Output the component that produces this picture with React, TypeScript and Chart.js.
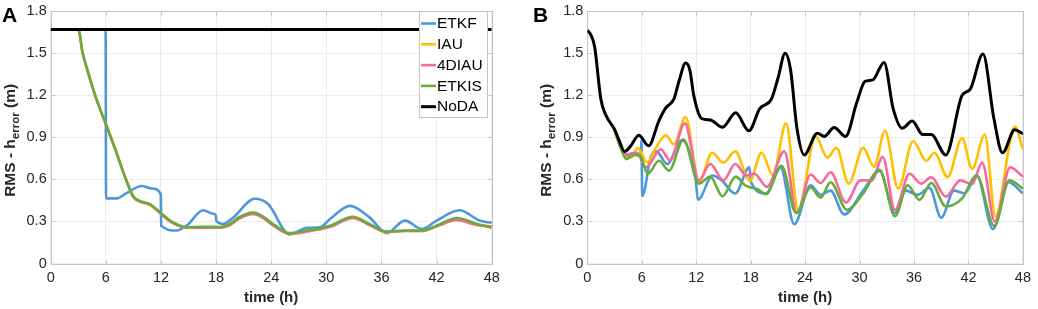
import React, { useEffect, useRef } from "react";
import { Chart, registerables } from "chart.js";

Chart.register(...registerables);

const FONT = '"Liberation Sans", Arial, Helvetica, sans-serif';
const TEXT_COLOR = "#262626";
const AXIS_COLOR = "#c4c4c4";
const GRID_COLOR = "#ececec";

const seriesLabels = ["ETKF", "IAU", "4DIAU", "ETKIS", "NoDA"];
const seriesColors = ["#4d97dc", "#ffc000", "#f7699b", "#66ad3d", "#000000"];
const seriesWidths = [2.6, 2.6, 2.6, 2.6, 3];

const xTickValues = [0, 6, 12, 18, 24, 30, 36, 42, 48];
const yTickValues = [0, 0.3, 0.6, 0.9, 1.2, 1.5, 1.8];
const xAxisTitle = "time (h)";
const yAxisTitleMain = "RMS - h";
const yAxisTitleSub = "error";
const yAxisTitleEnd = " (m)";

// ---------------- Panel A ----------------
const etkfATimes = [0, 5.98, 6.02, 7.2, 8.2, 9.9, 11.0, 11.98, 12.02, 13.7, 14.8, 16.6, 17.6, 17.98, 18.02, 18.8, 19.9, 22.2, 23.7, 24.05, 26.0, 27.9, 29.3, 30.4, 32.57, 34.7, 36.56, 38.55, 40.4, 42.0, 44.5, 46.7, 48];
const etkfAValues = [1.67, 1.67, 0.465, 0.465, 0.5, 0.553, 0.535, 0.495, 0.27, 0.235, 0.27, 0.38, 0.357, 0.345, 0.306, 0.282, 0.33, 0.462, 0.423, 0.39, 0.207, 0.254, 0.258, 0.317, 0.411, 0.329, 0.217, 0.306, 0.247, 0.306, 0.38, 0.306, 0.29];

const smootherATimes = [0, 3.0, 3.48, 4.0, 4.82, 5.5, 6.0, 7.0, 8.19, 9.0, 10.0, 10.8, 12.0, 13.0, 14.8, 16.5, 18.4, 19.5, 20.5, 22.05, 23.0, 24.2, 26.0, 27.9, 30.4, 32.9, 34.7, 36.56, 38.55, 40.4, 42.0, 44.2, 46.4, 48];
const iauAValues = [1.67, 1.67, 1.5, 1.38, 1.203, 1.08, 0.996, 0.82, 0.6, 0.473, 0.435, 0.418, 0.355, 0.3, 0.255, 0.255, 0.255, 0.275, 0.32, 0.353, 0.33, 0.272, 0.212, 0.228, 0.262, 0.325, 0.275, 0.225, 0.232, 0.232, 0.265, 0.31, 0.275, 0.265];
const fdiauAValues = [1.67, 1.67, 1.5, 1.38, 1.203, 1.08, 0.996, 0.82, 0.6, 0.475, 0.437, 0.42, 0.355, 0.3, 0.255, 0.255, 0.255, 0.275, 0.32, 0.353, 0.33, 0.272, 0.212, 0.228, 0.262, 0.325, 0.275, 0.225, 0.232, 0.232, 0.265, 0.31, 0.275, 0.265];
const etkisAValues = [1.67, 1.67, 1.5, 1.38, 1.203, 1.08, 0.996, 0.82, 0.6, 0.478, 0.44, 0.423, 0.36, 0.306, 0.259, 0.262, 0.26, 0.282, 0.33, 0.364, 0.34, 0.282, 0.217, 0.235, 0.27, 0.334, 0.282, 0.228, 0.235, 0.235, 0.27, 0.325, 0.282, 0.254];

const nodaATimes = [0, 48];
const nodaAValues = [1.67, 1.67];

// ---------------- Panel B ----------------
const etkfBTimes = [3.0, 3.6, 4.3, 5.2, 5.9, 5.97, 6.05, 7.0, 7.6, 8.8, 10.4, 11.9, 12.2, 13.8, 14.8, 16.3, 17.85, 18.05, 19.7, 21.3, 22.8, 24.6, 25.7, 26.8, 28.3, 30.4, 32.2, 33.9, 35.1, 36.4, 37.7, 39.0, 40.4, 41.6, 42.9, 44.7, 46.4, 48];
const etkfBValues = [0.955, 0.84, 0.77, 0.79, 0.78, 0.88, 0.48, 0.76, 0.8, 0.71, 0.88, 0.62, 0.455, 0.628, 0.593, 0.5, 0.686, 0.58, 0.5, 0.686, 0.28, 0.558, 0.49, 0.52, 0.35, 0.52, 0.66, 0.36, 0.52, 0.49, 0.54, 0.326, 0.52, 0.5, 0.63, 0.245, 0.58, 0.5];

const iauBTimes = [3.0, 3.6, 4.3, 4.9, 5.55, 6.64, 7.5, 8.65, 9.55, 10.83, 12.3, 13.75, 15.0, 16.3, 17.9, 19.2, 20.45, 21.9, 23.25, 25.15, 26.45, 27.45, 28.8, 30.4, 31.6, 32.8, 34.25, 35.9, 37.35, 38.25, 39.7, 41.3, 42.4, 43.8, 44.97, 47.1, 48];
const iauBValues = [0.955, 0.84, 0.755, 0.76, 0.825, 0.72, 0.82, 0.915, 0.85, 1.045, 0.58, 0.79, 0.72, 0.8, 0.59, 0.79, 0.63, 1.0, 0.38, 0.907, 0.755, 0.825, 0.57, 0.825, 0.69, 0.947, 0.535, 0.872, 0.733, 0.79, 0.616, 0.895, 0.675, 0.92, 0.337, 0.977, 0.815];

const fdiauBTimes = [3.0, 3.6, 4.3, 5.45, 6.45, 8.1, 9.1, 10.75, 12.3, 13.55, 15.0, 16.3, 17.55, 18.4, 19.8, 21.7, 23.1, 24.6, 25.7, 26.8, 28.5, 30.1, 31.35, 32.55, 33.9, 35.5, 36.8, 37.9, 39.5, 41.1, 42.4, 43.5, 44.9, 46.6, 48];
const fdiauBValues = [0.955, 0.84, 0.78, 0.79, 0.686, 0.815, 0.737, 1.0, 0.593, 0.71, 0.593, 0.71, 0.628, 0.64, 0.547, 0.8, 0.36, 0.635, 0.574, 0.651, 0.435, 0.593, 0.593, 0.76, 0.384, 0.64, 0.57, 0.616, 0.477, 0.593, 0.565, 0.72, 0.3, 0.686, 0.62];

const etkisBTimes = [3.0, 3.6, 4.3, 5.2, 5.9, 6.64, 7.9, 9.0, 10.6, 12.3, 13.55, 14.9, 16.35, 17.4, 18.8, 19.7, 21.4, 23.0, 24.6, 25.7, 26.8, 28.6, 30.4, 32.2, 33.9, 35.3, 36.6, 37.9, 39.5, 41.3, 42.9, 44.85, 46.5, 48];
const etkisBValues = [0.955, 0.84, 0.745, 0.775, 0.76, 0.64, 0.733, 0.663, 0.884, 0.57, 0.62, 0.48, 0.62, 0.558, 0.528, 0.495, 0.698, 0.36, 0.542, 0.47, 0.58, 0.384, 0.5, 0.668, 0.337, 0.558, 0.454, 0.574, 0.407, 0.465, 0.628, 0.267, 0.593, 0.535];

const nodaBTimes = [0, 0.4, 0.8, 1.5, 2.07, 2.98, 3.5, 4.1, 4.8, 5.67, 6.75, 7.9, 8.65, 9.55, 10.1, 10.83, 11.3, 11.73, 12.6, 13.55, 14.9, 16.35, 17.8, 19.0, 20.3, 21.0, 21.8, 22.4, 23.1, 23.9, 25.35, 26.1, 27.2, 28.45, 29.7, 30.6, 31.45, 32.7, 33.7, 34.7, 35.8, 36.95, 37.9, 39.5, 41.3, 42.2, 43.6, 44.8, 45.75, 47.1, 48];
const nodaBValues = [1.665, 1.63, 1.55, 1.17, 1.055, 0.96, 0.88, 0.8, 0.84, 0.915, 0.84, 1.02, 1.11, 1.175, 1.3, 1.43, 1.38, 1.2, 1.035, 1.024, 0.972, 1.075, 0.947, 1.105, 1.175, 1.32, 1.5, 1.38, 0.965, 0.775, 0.93, 0.907, 0.97, 0.907, 1.15, 1.3, 1.31, 1.435, 1.105, 0.965, 1.017, 0.92, 0.92, 0.775, 1.2, 1.245, 1.495, 1.035, 0.79, 0.955, 0.925];

const panelATimes = [etkfATimes, smootherATimes, smootherATimes, smootherATimes, nodaATimes];
const panelAValues = [etkfAValues, iauAValues, fdiauAValues, etkisAValues, nodaAValues];
const panelBTimes = [etkfBTimes, iauBTimes, fdiauBTimes, etkisBTimes, nodaBTimes];
const panelBValues = [etkfBValues, iauBValues, fdiauBValues, etkisBValues, nodaBValues];

type PanelCfg = {
  letter: string;
  letterX: number;
  plotLeft: number;
  padRight: number;
  yTitleBaseline: number;
  legend: boolean;
  times: number[][];
  values: number[][];
};

const CANVAS_W = 519;
const CANVAS_H = 309;

function zip(t: number[], v: number[]) {
  return t.map((x, i) => ({ x, y: v[i] }));
}

function decorPlugin(cfg: PanelCfg) {
  return {
    id: "decor" + cfg.letter,
    beforeDatasetsDraw(chart: any) {
      const ctx = chart.ctx;
      const a = chart.chartArea;
      const xs = chart.scales.x;
      const ys = chart.scales.y;
      const L = Math.round(a.left) + 0.5;
      const R = Math.round(a.right) + 0.5;
      const T = Math.round(a.top) + 0.5;
      const B = Math.round(a.bottom) + 0.5;
      ctx.save();
      ctx.strokeStyle = AXIS_COLOR;
      ctx.lineWidth = 1;
      ctx.strokeRect(L, T, R - L, B - T);
      ctx.beginPath();
      const tl = 4;
      xTickValues.forEach((v) => {
        const px = Math.round(xs.getPixelForValue(v)) + 0.5;
        ctx.moveTo(px, B);
        ctx.lineTo(px, B - tl);
        ctx.moveTo(px, T);
        ctx.lineTo(px, T + tl);
      });
      yTickValues.forEach((v) => {
        const py = Math.round(ys.getPixelForValue(v)) + 0.5;
        ctx.moveTo(L, py);
        ctx.lineTo(L + tl, py);
        ctx.moveTo(R, py);
        ctx.lineTo(R - tl, py);
      });
      ctx.stroke();
      ctx.restore();
    },
    afterDraw(chart: any) {
      const ctx = chart.ctx;
      const a = chart.chartArea;
      ctx.save();
      // panel letter
      ctx.fillStyle = "#000";
      ctx.font = `bold 21px ${FONT}`;
      ctx.textAlign = "left";
      ctx.textBaseline = "alphabetic";
      ctx.fillText(cfg.letter, cfg.letterX, 22);

      // x title
      ctx.fillStyle = TEXT_COLOR;
      ctx.font = `bold 15px ${FONT}`;
      ctx.textAlign = "center";
      ctx.textBaseline = "middle";
      ctx.fillText(xAxisTitle, (a.left + a.right) / 2, 298);

      // y title with subscript
      const mainFont = `bold 15.5px ${FONT}`;
      const subFont = `bold 11.5px ${FONT}`;
      ctx.font = mainFont;
      const w1 = ctx.measureText(yAxisTitleMain).width;
      const w3 = ctx.measureText(yAxisTitleEnd).width;
      ctx.font = subFont;
      const w2 = ctx.measureText(yAxisTitleSub).width;
      const total = w1 + w2 + w3;
      ctx.translate(cfg.yTitleBaseline, (a.top + a.bottom) / 2 + 3);
      ctx.rotate(-Math.PI / 2);
      ctx.textAlign = "left";
      ctx.textBaseline = "alphabetic";
      let x0 = -total / 2;
      ctx.font = mainFont;
      ctx.fillText(yAxisTitleMain, x0, 0);
      x0 += w1;
      ctx.font = subFont;
      ctx.fillText(yAxisTitleSub, x0, 4);
      x0 += w2;
      ctx.font = mainFont;
      ctx.fillText(yAxisTitleEnd, x0, 0);
      ctx.setTransform(1, 0, 0, 1, 0, 0);
      ctx.restore();

      if (cfg.legend) {
        ctx.save();
        const bx = 419.5;
        const by = 11.5;
        const bw = 68;
        const bh = 106;
        ctx.fillStyle = "#ffffff";
        ctx.fillRect(bx, by, bw, bh);
        ctx.strokeStyle = AXIS_COLOR;
        ctx.lineWidth = 1;
        ctx.strokeRect(bx, by, bw, bh);
        ctx.font = `15.5px ${FONT}`;
        ctx.textAlign = "left";
        ctx.textBaseline = "middle";
        chart.data.datasets.forEach((ds: any, i: number) => {
          const cy = 23.5 + i * 20.8;
          ctx.strokeStyle = ds.borderColor;
          ctx.lineWidth = ds.borderWidth;
          ctx.beginPath();
          ctx.moveTo(421, cy);
          ctx.lineTo(436, cy);
          ctx.stroke();
          ctx.fillStyle = "#000";
          ctx.fillText(ds.label, 437, cy + 0.5);
        });
        ctx.restore();
      }
    },
  };
}

function Panel({ cfg }: { cfg: PanelCfg }) {
  const ref = useRef<HTMLCanvasElement | null>(null);
  useEffect(() => {
    if (!ref.current) return;
    const datasets = seriesLabels.map((label, i) => ({
      label,
      data: zip(cfg.times[i], cfg.values[i]),
      borderColor: seriesColors[i],
      backgroundColor: seriesColors[i],
      borderWidth: seriesWidths[i],
      pointRadius: 0,
      fill: false,
      cubicInterpolationMode: "monotone" as const,
      order: seriesLabels.length - i,
    }));
    const tickFont = { family: FONT, size: 14.5, lineHeight: 1 };
    const chart = new Chart(ref.current, {
      type: "line",
      data: { datasets },
      options: {
        animation: false,
        responsive: false,
        devicePixelRatio: 1,
        events: [],
        layout: { padding: { left: 0, right: cfg.padRight, top: 7.3, bottom: 0 } },
        plugins: { legend: { display: false }, tooltip: { enabled: false } },
        scales: {
          x: {
            type: "linear",
            min: 0,
            max: 48,
            afterBuildTicks: (s: any) => {
              s.ticks = xTickValues.map((v) => ({ value: v }));
            },
            afterFit: (s: any) => {
              s.height = CANVAS_H - 263.5;
            },
            grid: { color: GRID_COLOR, drawTicks: false, lineWidth: 1 },
            border: { display: false },
            ticks: {
              padding: 7,
              color: TEXT_COLOR,
              font: tickFont,
              maxRotation: 0,
              autoSkip: false,
              callback: (v: any) => String(v),
            },
          },
          y: {
            type: "linear",
            min: 0,
            max: 1.8,
            afterBuildTicks: (s: any) => {
              s.ticks = yTickValues.map((v) => ({ value: v }));
            },
            afterFit: (s: any) => {
              s.width = cfg.plotLeft;
            },
            grid: { color: GRID_COLOR, drawTicks: false, lineWidth: 1 },
            border: { display: false },
            ticks: {
              padding: 4,
              color: TEXT_COLOR,
              font: tickFont,
              autoSkip: false,
              callback: (v: any) => (Number(v) === 0 ? "0" : Number(v).toFixed(1)),
            },
          },
        },
      } as any,
      plugins: [decorPlugin(cfg) as any],
    });
    return () => chart.destroy();
  }, [cfg]);
  return (
    <canvas
      ref={ref}
      width={CANVAS_W}
      height={CANVAS_H}
      style={{ display: "block", width: CANVAS_W, height: CANVAS_H }}
    />
  );
}

const panelA: PanelCfg = {
  letter: "A",
  letterX: 2,
  plotLeft: 50.7,
  padRight: CANVAS_W - 491.7,
  yTitleBaseline: 15,
  legend: true,
  times: panelATimes,
  values: panelAValues,
};

const panelB: PanelCfg = {
  letter: "B",
  letterX: 14,
  plotLeft: 68.3,
  padRight: CANVAS_W - 509.3,
  yTitleBaseline: 32,
  legend: false,
  times: panelBTimes,
  values: panelBValues,
};

export default function App() {
  return (
    <div
      style={{
        position: "absolute",
        left: 0,
        top: 0,
        width: 1038,
        height: 309,
        background: "#ffffff",
        overflow: "hidden",
      }}
    >
      <div style={{ position: "absolute", left: 0, top: 0 }}>
        <Panel cfg={panelA} />
      </div>
      <div style={{ position: "absolute", left: 519, top: 0 }}>
        <Panel cfg={panelB} />
      </div>
    </div>
  );
}
